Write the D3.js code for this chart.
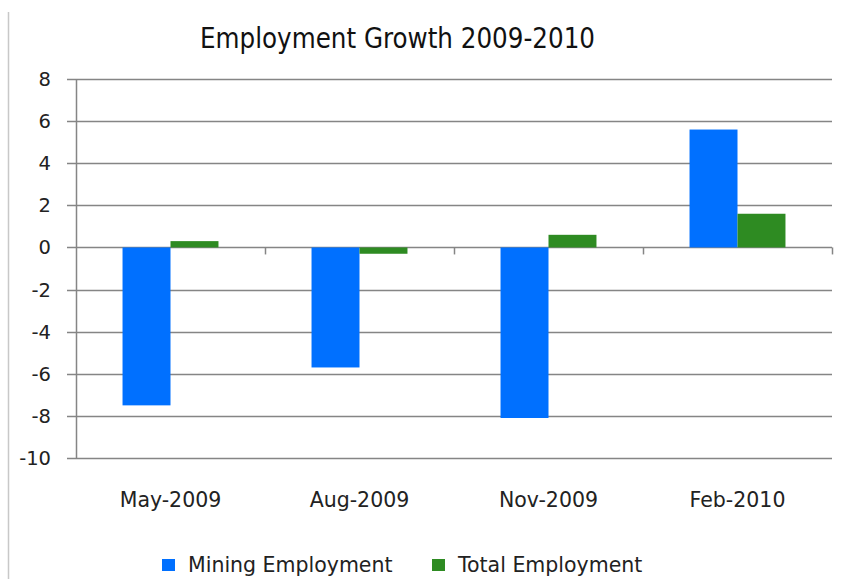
<!DOCTYPE html>
<html>
<head>
<meta charset="utf-8">
<script src="https://cdn.jsdelivr.net/npm/d3@7"></script>
<style>
  body { margin: 0; background: #fff; }
  .tick-label { font-family: "DejaVu Sans", sans-serif; font-size: 19.5px; fill: #222; }
</style>
</head>
<body>
<div class="chart"></div>
<script>
var categories = ["May-2009", "Aug-2009", "Nov-2009", "Feb-2010"];
var seriesNames = ["Mining Employment", "Total Employment"];
var miningValues = [-7.5, -5.7, -8.1, 5.6];
var totalValues = [0.3, -0.3, 0.6, 1.6];
var yTicks = [8, 6, 4, 2, 0, -2, -4, -6, -8, -10];
var colors = ["#0070ff", "#2e8b22"];

var svgWidth = 843;
var svgHeight = 579;

var plot = { left: 76, right: 832, top: 79, bottom: 458 };

var svg = d3
  .select(".chart")
  .append("svg")
  .attr("width", svgWidth)
  .attr("height", svgHeight);

// light frame line at left edge
svg.append("line")
  .attr("x1", 8.5).attr("x2", 8.5)
  .attr("y1", 12).attr("y2", svgHeight)
  .attr("stroke", "#c8c8c8")
  .attr("stroke-width", 1.5);

var yScale = d3.scaleLinear().domain([-10, 8]).range([plot.bottom, plot.top]);

var xScale = d3.scaleBand()
  .domain(categories)
  .range([plot.left, plot.right])
  .padding(0);

var xInner = d3.scaleBand()
  .domain(seriesNames)
  .range([0, xScale.bandwidth()])
  .paddingInner(0)
  .paddingOuter(0.97);

// gridlines
svg.append("g")
  .selectAll("line")
  .data(yTicks)
  .enter()
  .append("line")
  .attr("x1", plot.left - 9)
  .attr("x2", plot.right)
  .attr("y1", function(d) { return Math.round(yScale(d)) + 0.5; })
  .attr("y2", function(d) { return Math.round(yScale(d)) + 0.5; })
  .attr("stroke", "#858585")
  .attr("stroke-width", 1.5);

// y axis line
svg.append("line")
  .attr("x1", plot.left + 0.5).attr("x2", plot.left + 0.5)
  .attr("y1", yScale(8)).attr("y2", yScale(-10))
  .attr("stroke", "#858585")
  .attr("stroke-width", 1.5);

// y tick labels
svg.append("g")
  .selectAll("text")
  .data(yTicks)
  .enter()
  .append("text")
  .attr("class", "tick-label")
  .attr("x", 51)
  .attr("y", function(d) { return yScale(d) + 7; })
  .attr("text-anchor", "end")
  .text(function(d) { return d; });

// bars
var rows = categories.map(function(c, i) {
  return { cat: c, values: [miningValues[i], totalValues[i]] };
});

var groups = svg.append("g")
  .selectAll("g")
  .data(rows)
  .enter()
  .append("g")
  .attr("transform", function(d) { return "translate(" + xScale(d.cat) + ",0)"; });

groups.selectAll("rect")
  .data(function(d) {
    return d.values.map(function(v, j) { return { name: seriesNames[j], value: v, idx: j }; });
  })
  .enter()
  .append("rect")
  .attr("x", function(d) { return xInner(d.name); })
  .attr("width", xInner.bandwidth())
  .attr("y", function(d) { return yScale(Math.max(0, d.value)); })
  .attr("height", function(d) { return Math.abs(yScale(d.value) - yScale(0)); })
  .attr("fill", function(d) { return colors[d.idx]; });

// category ticks on zero line
var boundaries = categories.map(function(c) { return xScale(c) + xScale.bandwidth(); });
svg.append("g")
  .selectAll("line")
  .data(boundaries)
  .enter()
  .append("line")
  .attr("x1", function(d) { return Math.round(d) + 0.5; })
  .attr("x2", function(d) { return Math.round(d) + 0.5; })
  .attr("y1", yScale(0))
  .attr("y2", yScale(0) + 7)
  .attr("stroke", "#858585")
  .attr("stroke-width", 1.5);

// x labels
svg.append("g")
  .selectAll("text")
  .data(categories)
  .enter()
  .append("text")
  .attr("class", "tick-label")
  .attr("x", function(d) { return xScale(d) + xScale.bandwidth() / 2; })
  .attr("y", 507)
  .attr("text-anchor", "middle")
  .style("font-size", "20.5px")
  .text(function(d) { return d; });

// title
svg.append("text")
  .attr("x", 397.5)
  .attr("y", 48)
  .attr("text-anchor", "middle")
  .attr("textLength", 395)
  .attr("lengthAdjust", "spacingAndGlyphs")
  .style("font-family", "'DejaVu Sans Condensed', 'DejaVu Sans', sans-serif")
  .style("font-size", "28px")
  .style("fill", "#111")
  .text("Employment Growth 2009-2010");

// legend
var legendX = [162, 432];
var legend = svg.append("g")
  .selectAll("g")
  .data(seriesNames)
  .enter()
  .append("g")
  .attr("transform", function(d, i) { return "translate(" + legendX[i] + ",559)"; });

legend.append("rect")
  .attr("width", 13)
  .attr("height", 12)
  .attr("fill", function(d, i) { return colors[i]; });

legend.append("text")
  .attr("class", "tick-label")
  .attr("x", 26)
  .attr("y", 13)
  .style("font-size", "20.5px")
  .text(function(d) { return d; });
</script>
</body>
</html>
